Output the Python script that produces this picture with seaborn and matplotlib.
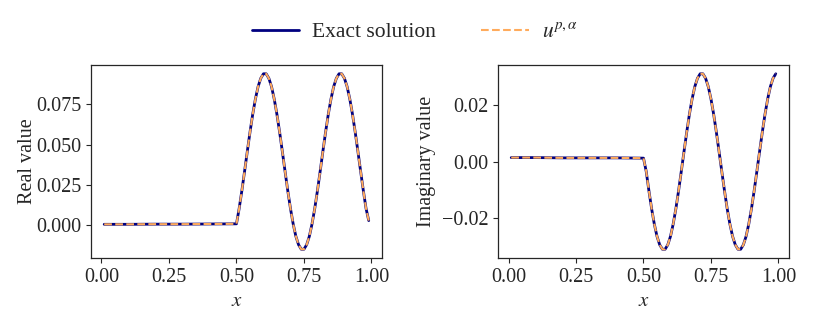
import numpy as np
import pandas as pd
import matplotlib
matplotlib.use("Agg")
import matplotlib.pyplot as plt
import seaborn as sns

# x grid: flat part then the oscillating part
x_flat = [0.01, 0.10, 0.20, 0.30, 0.40]
x_osc = [0.50, 0.51, 0.52, 0.53, 0.54, 0.55, 0.56, 0.57, 0.58, 0.59,
         0.60, 0.61, 0.62, 0.63, 0.64, 0.65, 0.66, 0.67, 0.68, 0.69,
         0.70, 0.71, 0.72, 0.73, 0.74, 0.75, 0.76, 0.77, 0.78, 0.79,
         0.80, 0.81, 0.82, 0.83, 0.84, 0.85, 0.86, 0.87, 0.88, 0.89,
         0.90, 0.91, 0.92, 0.93, 0.94, 0.95, 0.96, 0.97, 0.98, 0.99]
x_vals = x_flat + x_osc

# Real part
real_flat = [0.0007, 0.0007, 0.0008, 0.0008, 0.0009]
real_osc = [0.0010, 0.0105, 0.0215, 0.0334, 0.0456, 0.0575, 0.0685, 0.0780, 0.0857, 0.0909,
            0.0937, 0.0937, 0.0909, 0.0857, 0.0780, 0.0685, 0.0575, 0.0456, 0.0334, 0.0215,
            0.0105, 0.0010, -0.0067, -0.0119, -0.0147, -0.0147, -0.0119, -0.0067, 0.0010, 0.0105,
            0.0215, 0.0334, 0.0456, 0.0575, 0.0685, 0.0780, 0.0857, 0.0909, 0.0937, 0.0937,
            0.0909, 0.0857, 0.0780, 0.0685, 0.0575, 0.0456, 0.0334, 0.0215, 0.0105, 0.0030]
real_vals = real_flat + real_osc

# Imaginary part
imag_flat = [0.0014, 0.0014, 0.0013, 0.0013, 0.0013]
imag_osc = [0.0012, -0.0035, -0.0104, -0.0168, -0.0223, -0.0267, -0.0297, -0.0313, -0.0313, -0.0297,
            -0.0267, -0.0223, -0.0168, -0.0104, -0.0035, 0.0035, 0.0104, 0.0168, 0.0223, 0.0267,
            0.0297, 0.0313, 0.0313, 0.0297, 0.0267, 0.0223, 0.0168, 0.0104, 0.0035, -0.0035,
            -0.0104, -0.0168, -0.0223, -0.0267, -0.0297, -0.0313, -0.0313, -0.0297, -0.0267, -0.0223,
            -0.0168, -0.0104, -0.0035, 0.0035, 0.0104, 0.0168, 0.0223, 0.0267, 0.0297, 0.0313]
imag_vals = imag_flat + imag_osc

df = pd.DataFrame({"x": x_vals, "real": real_vals, "imag": imag_vals})

sns.set_style("ticks")
plt.rcParams['font.family'] = ['Liberation Serif', 'DejaVu Serif']
plt.rcParams['mathtext.fontset'] = 'stix'
plt.rcParams['font.size'] = 14

exact_color = '#000080'
approx_color = '#ffab5c'

fig = plt.figure(figsize=(8.3, 3.23), dpi=100)
ax1 = fig.add_axes([0.1096, 0.2012, 0.3506, 0.5975])
ax2 = fig.add_axes([0.6, 0.2012, 0.3506, 0.5975])

for ax, col, lab, pad in [(ax1, "real", "Real value", -1), (ax2, "imag", "Imaginary value", 4)]:
    sns.lineplot(data=df, x="x", y=col, ax=ax, color=exact_color, linewidth=2,
                 label="Exact solution", legend=False)
    sns.lineplot(data=df, x="x", y=col, ax=ax, color=approx_color, linewidth=1.5,
                 linestyle='--', label=r"$u^{p,\alpha}$", legend=False)
    ax.set_xlabel(r"$x$", fontsize=15)
    ax.set_ylabel(lab, fontsize=14.5, labelpad=pad)
    ax.set_xticks([0.0, 0.25, 0.5, 0.75, 1.0])
    ax.set_xticklabels(["0.00", "0.25", "0.50", "0.75", "1.00"])
    ax.tick_params(labelsize=14.5)
    for s in ax.spines.values():
        s.set_linewidth(0.9)

ax1.set_yticks([0.0, 0.025, 0.05, 0.075])
ax1.set_yticklabels(["0.000", "0.025", "0.050", "0.075"])
ax2.set_yticks([-0.02, 0.0, 0.02])
ax2.set_yticklabels(["\u22120.02", "0.00", "0.02"])

handles, labels = ax1.get_legend_handles_labels()
fig.legend(handles, labels, loc='center', bbox_to_anchor=(0.5, 0.9), ncol=2,
           frameon=False, fontsize=15.5, columnspacing=2.1, handlelength=2.2,
           handletextpad=0.6)

plt.savefig("out.png", dpi=100)
